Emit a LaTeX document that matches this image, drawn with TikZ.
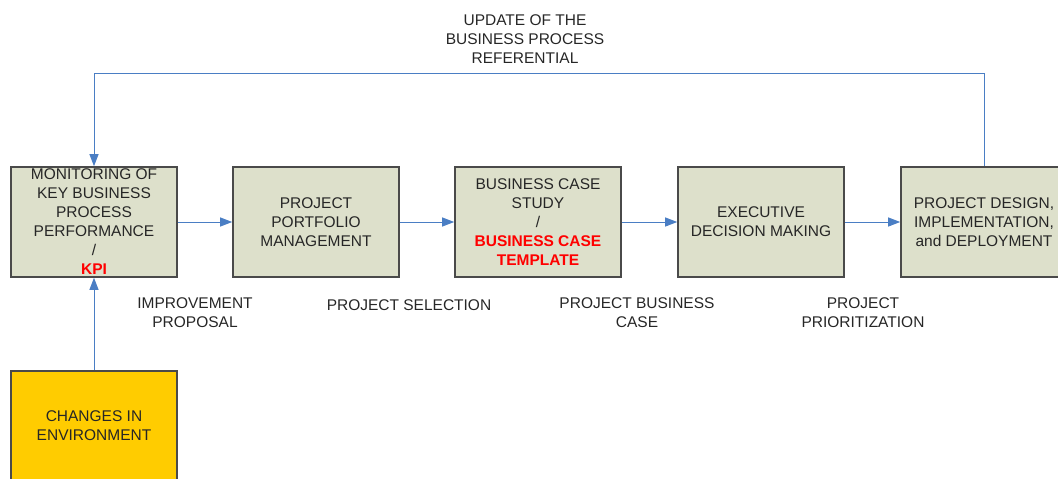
\documentclass[tikz,border=0pt]{standalone}
\usepackage{fontspec}
\setmainfont{Liberation Sans}
\usetikzlibrary{arrows.meta}
\definecolor{boxfill}{HTML}{DDE0CB}
\definecolor{boxline}{HTML}{4A4A4A}
\definecolor{yel}{HTML}{FFCC00}
\definecolor{arr}{HTML}{4A7EC4}
\definecolor{txt}{HTML}{262626}
\definecolor{kred}{HTML}{FF0000}
\tikzset{
  procbox/.style={draw=boxline, line width=1.6pt, fill=boxfill, minimum width=166pt, minimum height=110pt, inner sep=0pt, align=center, text=txt, font=\fontsize{15.5pt}{19pt}\selectfont},
  envbox/.style={procbox, fill=yel},
  lbl/.style={align=center, text=txt, font=\fontsize{15.5pt}{19pt}\selectfont, inner sep=0pt},
  flow/.style={draw=arr, line width=1pt, -{Triangle[length=12pt,width=9pt]}}
}
\begin{document}
\begin{tikzpicture}[x=1pt,y=-1pt]
\useasboundingbox (0,0) rectangle (1058,479);
\clip (0,0) rectangle (1058,479);
\node[procbox] (mon) at (94,222) {MONITORING OF\\KEY BUSINESS\\PROCESS\\PERFORMANCE\\/\\{\bfseries\color{kred}KPI}};
\node[procbox] (ppm) at (316,222) {PROJECT\\PORTFOLIO\\MANAGEMENT};
\node[procbox] (bcs) at (538,222) {BUSINESS CASE\\STUDY\\/\\{\bfseries\color{kred}BUSINESS CASE}\\{\bfseries\color{kred}TEMPLATE}};
\node[procbox] (edm) at (761,222) {EXECUTIVE\\DECISION MAKING};
\node[procbox] (pdi) at (984,222) {PROJECT DESIGN,\\IMPLEMENTATION,\\and DEPLOYMENT};
\node[envbox] (env) at (94,426) {CHANGES IN\\ENVIRONMENT};

\coordinate (tr) at (984,73);
\coordinate (tl) at (94,73);

\draw[flow] (mon) -- (ppm);
\draw[flow] (ppm) -- (bcs);
\draw[flow] (bcs) -- (edm);
\draw[flow] (edm) -- (pdi);
\draw[flow] (env) -- (mon);
\draw[flow] (pdi.north) -- (tr) -- (tl) -- (mon.north);

\node[lbl] (upd) at (525,39) {UPDATE OF THE\\BUSINESS PROCESS\\REFERENTIAL};
\node[lbl] (imp) at (195,313) {IMPROVEMENT\\PROPOSAL};
\node[lbl] (sel) at (409,305) {PROJECT SELECTION};
\node[lbl] (pbc) at (637,313) {PROJECT BUSINESS\\CASE};
\node[lbl] (pri) at (863,313) {PROJECT\\PRIORITIZATION};
\end{tikzpicture}
\end{document}
